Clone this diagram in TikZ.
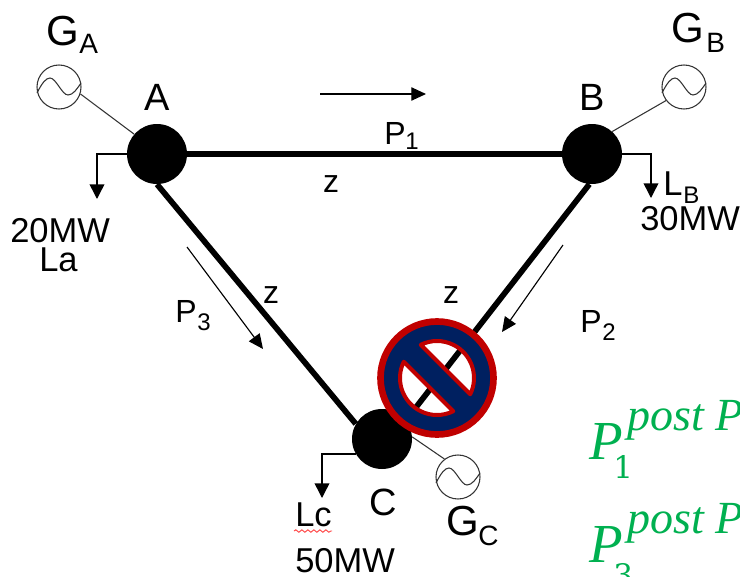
\documentclass[tikz,border=0pt]{standalone}
\usepackage{fontspec}
\setmainfont{Liberation Sans}
\newfontfamily\mathlike[ItalicFont=Liberation Serif Italic]{Liberation Serif}
\newfontfamily\digitfont{DejaVu Serif}
\usetikzlibrary{arrows.meta,decorations.pathmorphing}
\definecolor{signnavy}{HTML}{002060}
\definecolor{signred}{HTML}{C00000}
\definecolor{formgreen}{HTML}{00B050}
\newcommand{\pxf}[1]{\fontsize{\fpeval{#1*0.75}pt}{\fpeval{#1*0.9}pt}\selectfont}
\newcommand{\sinewave}[1]{\draw[genline,shift={(#1.center)}] (-22,6) .. controls (-17,-4) and (-13,-9) .. (-9,-9) .. controls (-3,-9) and (3,8) .. (9,8) .. controls (14,8) and (18,2) .. (22,-4);}
\tikzset{
  x=0.75pt,y=-0.75pt,
  bus/.style={circle,fill=black,inner sep=0pt,minimum size=45pt},
  gen/.style={circle,draw=black!80,line width=0.8pt,inner sep=0pt,minimum size=33pt},
  genline/.style={draw=black!80,line width=0.8pt},
  tie/.style={line width=4.3pt,draw=black},
  load/.style={line width=1.1pt,-{Triangle[length=11pt,width=11pt]}},
  flow/.style={line width=0.85pt,-{Triangle[length=11pt,width=10pt]}},
  lbl/.style={inner sep=0pt,anchor=base west,text=black},
  formula/.style={inner sep=0pt,anchor=base west,text=formgreen,font=\mathlike\itshape}
}
\begin{document}
\begin{tikzpicture}
\useasboundingbox (0,0) rectangle (740,576);
\clip (0,0) rectangle (740,576);
% buses
\node[bus] (a) at (157,154) {};
\node[bus] (b) at (592,154) {};
\node[bus] (c) at (382,439) {};
% lines
\draw[tie] (a) -- (b);
\draw[tie] (a.270) -- (c.150);
\draw[tie] (b.265) -- (c.38);
% generators
\node[gen] (ga) at (59,87) {};
\node[gen] (gb) at (684,87) {};
\node[gen] (gc) at (458,477) {};
\sinewave{ga}\sinewave{gb}\sinewave{gc}
\draw[genline] (ga.-18) -- (a.139);
\draw[genline] (gb.217) -- (b.48);
\draw[genline] (gc.127) -- (c.4);
% loads
\coordinate (la) at (97,199);
\coordinate (lb) at (651,198);
\coordinate (lc) at (322,498);
\draw[load] (a.180) -| (la);
\draw[load] (b.0) -| (lb);
\draw[load] (c.210) -| (lc);
% flow arrows
\coordinate (f1s) at (320,94);\coordinate (f1e) at (426,94);
\coordinate (f3s) at (187,247);\coordinate (f3e) at (263,349);
\coordinate (f2s) at (563,245);\coordinate (f2e) at (502,332);
\draw[flow] (f1s) -- (f1e);
\draw[flow] (f3s) -- (f3e);
\draw[flow] (f2s) -- (f2e);
% no-entry sign
\begin{scope}[shift={(437,378)}]
  \fill[signnavy,even odd rule] (0,0) circle[radius=57]
    (33.24,16.26) arc[start angle=26.07,end angle=-116.07,radius=37] -- cycle
    (-33.24,-16.26) arc[start angle=206.07,end angle=63.93,radius=37] -- cycle;
  \draw[signred,line width=5pt] (0,0) circle[radius=56.5];
  \draw[signred,line width=3pt,line join=round]
    (33.24,16.26) arc[start angle=26.07,end angle=-116.07,radius=37] -- cycle;
  \draw[signred,line width=3pt,line join=round]
    (-33.24,-16.26) arc[start angle=206.07,end angle=63.93,radius=37] -- cycle;
\end{scope}
% labels
\node[lbl,font=\pxf{42}] (tga) at (46,45) {G};
\node[lbl,font=\pxf{28}] (tgas) at (79,53) {A};
\node[lbl,font=\pxf{42}] (tgb) at (671,42) {G};
\node[lbl,font=\pxf{28}] (tgbs) at (706,52) {B};
\node[lbl,font=\pxf{42}] (tgc) at (446,535) {G};
\node[lbl,font=\pxf{28}] (tgcs) at (478,545) {C};
\node[lbl,font=\pxf{38},anchor=base] (ta) at (157,110) {A};
\node[lbl,font=\pxf{38},anchor=base] (tb) at (592,110) {B};
\node[lbl,font=\pxf{38},anchor=base] (tc) at (383,515) {C};
\node[lbl,font=\pxf{34.5}] (t20) at (10,242) {20MW};
\node[lbl,font=\pxf{34.5}] (tla) at (39,271) {La};
\node[lbl,font=\pxf{34.5}] (tlb) at (663,195) {L};
\node[lbl,font=\pxf{24}] (tlbs) at (683,203) {B};
\node[lbl,font=\pxf{34.5}] (t30) at (640,230) {30MW};
\node[lbl,font=\pxf{32}] (tp1) at (384,144) {P};
\node[lbl,font=\pxf{24}] (tp1s) at (405,149) {1};
\node[lbl,font=\pxf{32}] (tp3) at (175,322) {P};
\node[lbl,font=\pxf{24}] (tp3s) at (197,330) {3};
\node[lbl,font=\pxf{32}] (tp2) at (580,332) {P};
\node[lbl,font=\pxf{24}] (tp2s) at (602,340) {2};
\node[lbl,font=\pxf{32},anchor=base] (tz1) at (331,192) {z};
\node[lbl,font=\pxf{32},anchor=base] (tz2) at (271,303) {z};
\node[lbl,font=\pxf{32},anchor=base] (tz3) at (451,303) {z};
\node[lbl,font=\pxf{34.5}] (tlc) at (295,526) {Lc};
\coordinate (sqs) at (294,531);\coordinate (sqe) at (332,531);
\draw[red!75,line width=0.7pt,decorate,decoration={snake,amplitude=0.9pt,segment length=4.5pt}] (sqs) -- (sqe);
\node[lbl,font=\pxf{34.5}] (t50) at (295,572) {50MW};
% formulas
\node[formula,font=\mathlike\itshape\pxf{55}] (fp1) at (589,459) {P};
\node[formula,font=\mathlike\itshape\pxf{46}] (fs1) at (627,430) {post P};
\node[formula,font=\digitfont\pxf{31}] (fn1) at (613,478) {1};
\node[formula,font=\mathlike\itshape\pxf{55}] (fp3) at (589,562) {P};
\node[formula,font=\mathlike\itshape\pxf{46}] (fs3) at (627,533) {post P};
\node[formula,font=\digitfont\pxf{31}] (fn3) at (613,586) {3};
\end{tikzpicture}
\end{document}
